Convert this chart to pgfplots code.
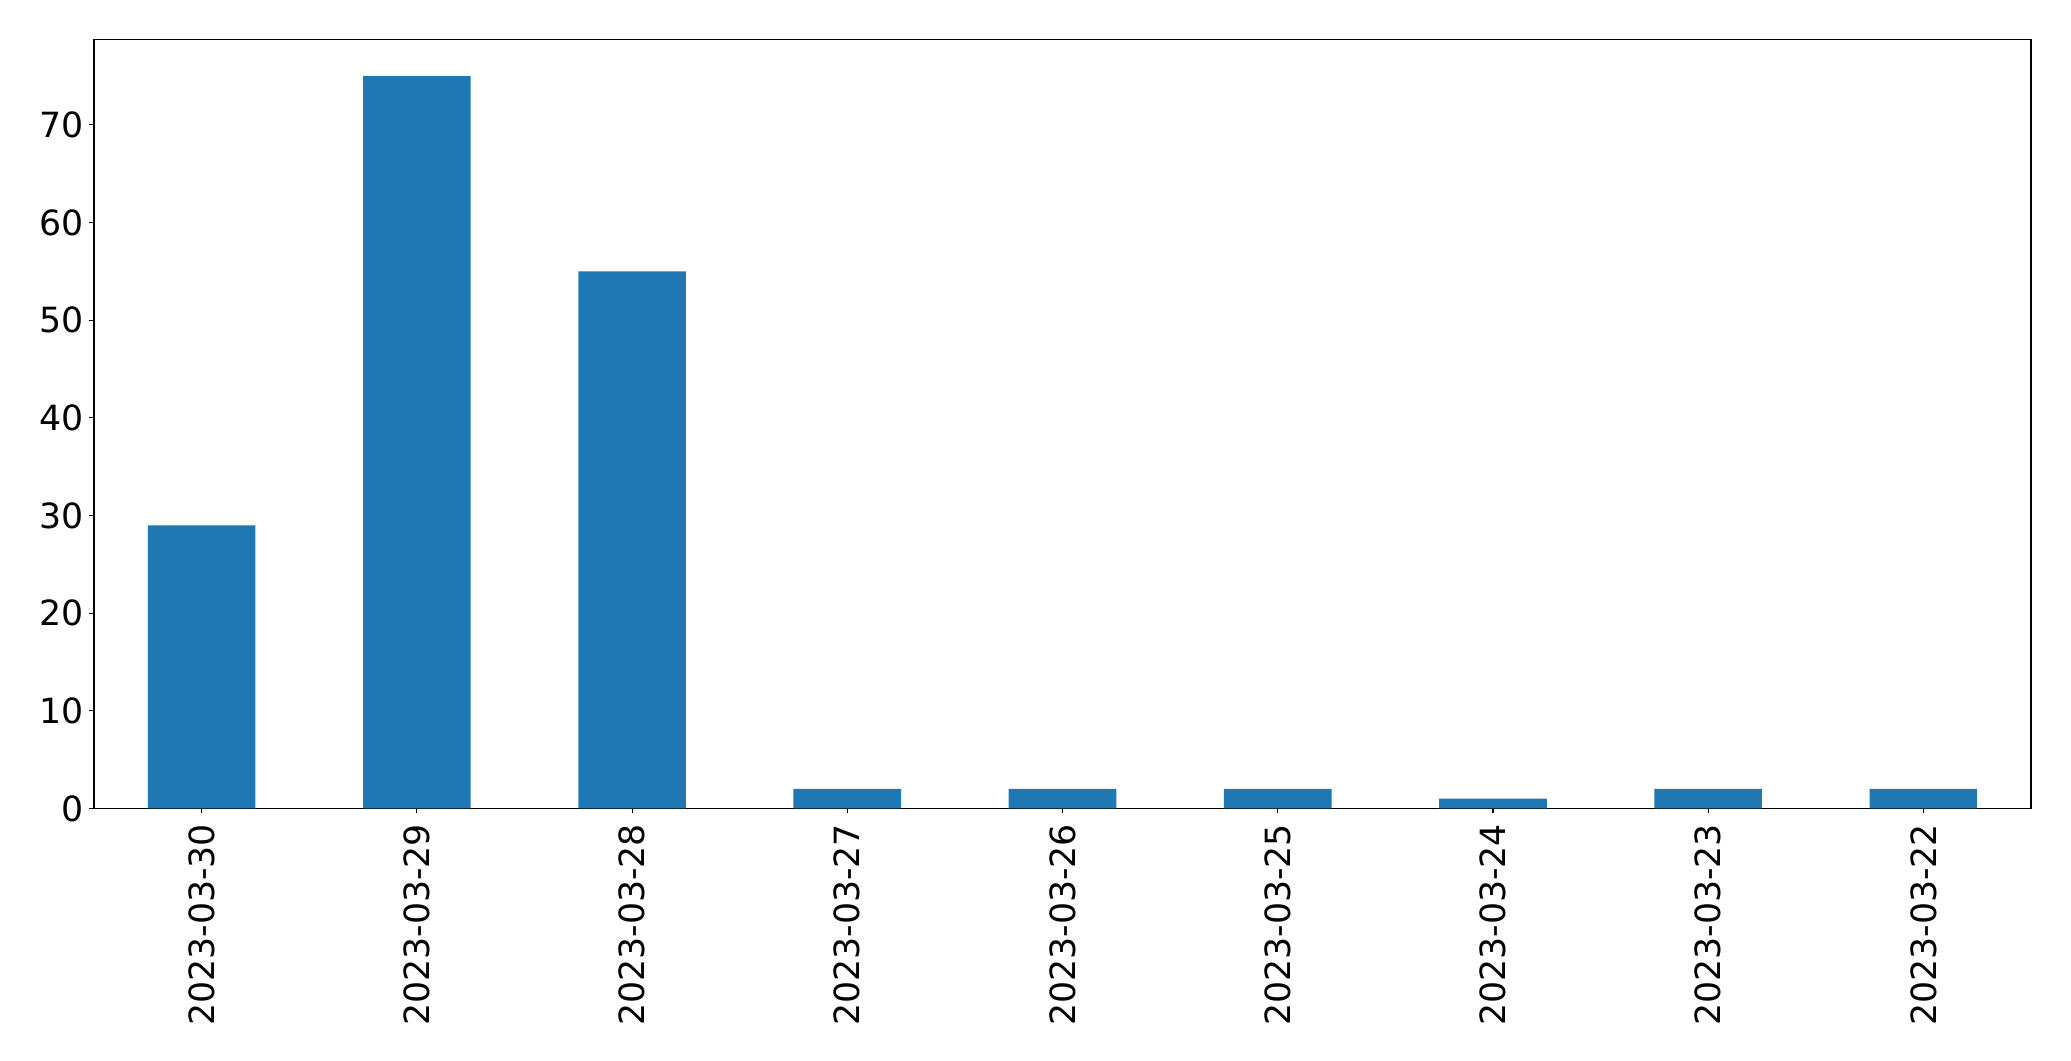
\documentclass[border=0pt]{standalone}
\usepackage{fontspec}
\setmainfont{DejaVu Sans}
\usepackage{pgfplots}
\pgfplotsset{compat=1.18}
\definecolor{mplblue}{RGB}{31,119,180}
\begin{document}
\begin{tikzpicture}
\path[use as bounding box] (0,0) rectangle (1491.1pt,763.9pt);
\begin{axis}[
  at={(67.7pt,181.8pt)}, anchor=south west,
  scale only axis,
  width=1394.6pt, height=553.7pt,
  xmin=-0.5, xmax=8.5, ymin=0, ymax=78.75,
  ybar, bar width=0.5,
  axis line style={line width=0.8pt},
  every tick/.style={black, line width=0.8pt},
  tick align=outside, major tick length=3.5pt,
  xtick pos=bottom, ytick pos=left,
  xtick={0,...,8},
  xticklabels={2023-03-30,2023-03-29,2023-03-28,2023-03-27,2023-03-26,2023-03-25,2023-03-24,2023-03-23,2023-03-22},
  ytick={0,10,...,70},
  /pgf/number format/assume math mode=true,
  tick label style={font=\fontsize{25}{30}\selectfont},
  xticklabel style={rotate=90, anchor=east, inner sep=0pt, xshift=-7.5pt},
  yticklabel style={anchor=east, inner sep=0pt, xshift=-4.1pt},
]
\addplot[fill=mplblue, draw=none] coordinates {
  (0,29) (1,75) (2,55) (3,2) (4,2) (5,2) (6,1) (7,2) (8,2)
};
\end{axis}
\end{tikzpicture}
\end{document}
